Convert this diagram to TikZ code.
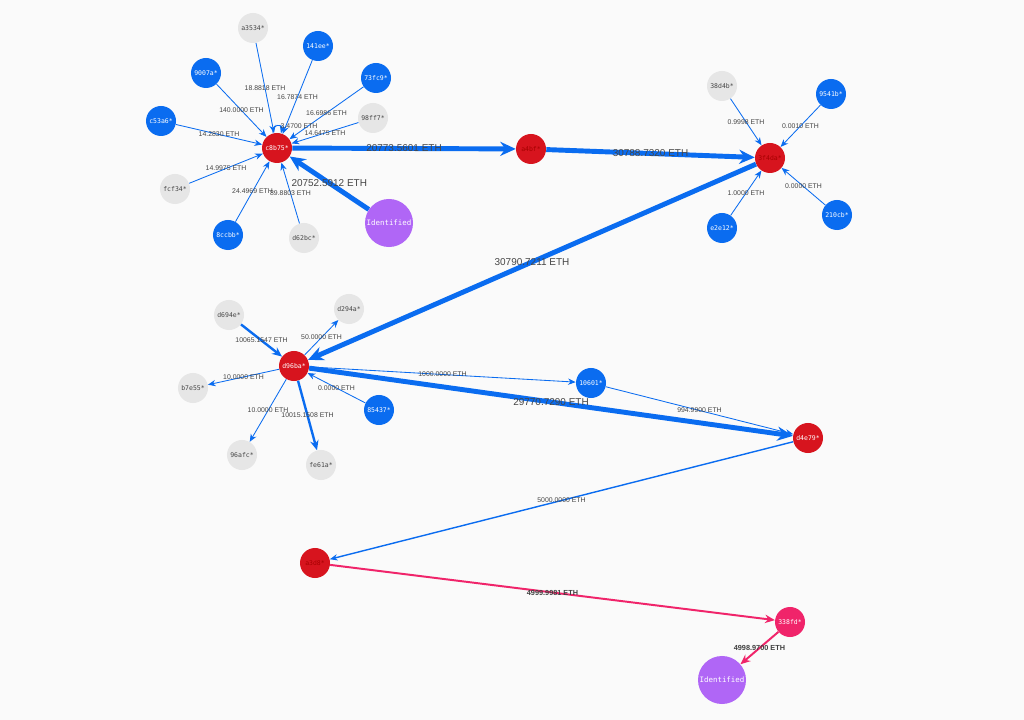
\documentclass[tikz,border=0pt]{standalone}
\usepackage{fontspec}
\setmainfont{Liberation Sans}
\newfontfamily\addrfont{DejaVu Sans Mono}
\usetikzlibrary{arrows.meta}
\definecolor{ethblue}{HTML}{0A6CF0}
\definecolor{ethred}{HTML}{D7141E}
\definecolor{ethgrey}{HTML}{E6E6E6}
\definecolor{ethpurple}{HTML}{B066F6}
\definecolor{ethpink}{HTML}{F0246A}
\definecolor{ethbg}{HTML}{FAFAFA}
\definecolor{ethtext}{HTML}{454545}
\begin{document}
\begin{tikzpicture}[x=0.025cm, y=-0.025cm, ->, >={Stealth[length=5.5pt,width=4.5pt]},
	addr/.style={circle, minimum size=0.75cm, inner sep=0pt, font=\addrfont\fontsize{4.6}{5}\selectfont},
	known/.style={addr, fill=ethblue, text=white},
	plain/.style={addr, fill=ethgrey, text=ethtext},
	hub/.style={addr, fill=ethred, text=white},
	hidden/.style={addr, fill=ethred, text=red!65!black},
	tagged/.style={addr, fill=ethpurple, text=white, minimum size=1.2cm, font=\addrfont\fontsize{5.3}{6}\selectfont},
	exit/.style={addr, fill=ethpink, text=white},
	tx/.style={draw=ethblue, line width=0.6pt},
	mid tx/.style={draw=ethblue, line width=1.7pt, -{Stealth[length=7pt,width=6pt]}},
	big tx/.style={draw=ethblue, line width=3.5pt, -{Stealth[length=11pt,width=10pt]}},
	pink tx/.style={draw=ethpink, line width=1.4pt, -{Stealth[length=7pt,width=6pt]}},
	amt/.style={midway, font=\fontsize{4.9}{5}\selectfont, text=ethtext},
	big amt/.style={midway, font=\fontsize{7.1}{8}\selectfont, text=ethtext},
	dark amt/.style={midway, font=\bfseries\fontsize{5.2}{6}\selectfont, text=black!75}]
	\fill[ethbg, -] (0,0) rectangle (1024,720);
	\useasboundingbox (0,0) rectangle (1024,720);
	\node (wc8b75) [hub] at (277,148) {c8b75*};
	\node (wa3534) [plain] at ([shift={(-24,-120)}]wc8b75) {a3534*};
	\node (w141ee) [known] at ([shift={(41,-102)}]wc8b75) {141ee*};
	\node (w9007a) [known] at ([shift={(-71,-75)}]wc8b75) {9007a*};
	\node (w73fc9) [known] at ([shift={(99,-70)}]wc8b75) {73fc9*};
	\node (w98ff7) [plain] at ([shift={(96,-30)}]wc8b75) {98ff7*};
	\node (wc53a6) [known] at ([shift={(-116,-27)}]wc8b75) {c53a6*};
	\node (wfcf34) [plain] at ([shift={(-102,41)}]wc8b75) {fcf34*};
	\node (w8ccbb) [known] at ([shift={(-49,87)}]wc8b75) {8ccbb*};
	\node (wd62bc) [plain] at ([shift={(27,90)}]wc8b75) {d62bc*};
	\node (ida) [tagged] at ([shift={(112,75)}]wc8b75) {Identified};
	\node (wa4bf) [hidden] at (531,149) {a4bf*};
	\node (w3f4da) [hidden] at (770,158) {3f4da*};
	\node (w38d4b) [plain] at ([shift={(-48,-72)}]w3f4da) {38d4b*};
	\node (w9541b) [known] at ([shift={(61,-64)}]w3f4da) {9541b*};
	\node (we2e12) [known] at ([shift={(-48,70)}]w3f4da) {e2e12*};
	\node (w210cb) [known] at ([shift={(67,57)}]w3f4da) {210cb*};
	\node (wd96ba) [hub] at (294,366) {d96ba*};
	\node (wd694e) [plain] at ([shift={(-65,-51)}]wd96ba) {d694e*};
	\node (wd294a) [plain] at ([shift={(55,-57)}]wd96ba) {d294a*};
	\node (wb7e55) [plain] at ([shift={(-101,22)}]wd96ba) {b7e55*};
	\node (w96afc) [plain] at ([shift={(-52,89)}]wd96ba) {96afc*};
	\node (wfe61a) [plain] at ([shift={(27,99)}]wd96ba) {fe61a*};
	\node (w85437) [known] at ([shift={(85,44)}]wd96ba) {85437*};
	\node (w10601) [known] at (591,383) {10601*};
	\node (wd4e79) [hub] at (808,438) {d4e79*};
	\node (wa3d8) [hidden] at (315,563) {a3d8*};
	\node (w338fd) [exit] at (790,622) {338fd*};
	\node (idb) [tagged] at ([shift={(-68,58)}]w338fd) {Identified};
	\draw[tx] (wa3534) -- node[amt] {18.8818 ETH} (wc8b75);
	\draw[tx] (w141ee) -- node[amt] {16.7874 ETH} (wc8b75);
	\draw[tx] (w9007a) -- node[amt] {140.0000 ETH} (wc8b75);
	\draw[tx] (w73fc9) -- node[amt] {16.6986 ETH} (wc8b75);
	\draw[tx] (w98ff7) -- node[amt] {14.6475 ETH} (wc8b75);
	\draw[tx] (wc53a6) -- node[amt] {14.2830 ETH} (wc8b75);
	\draw[tx] (wfcf34) -- node[amt] {14.9975 ETH} (wc8b75);
	\draw[tx] (w8ccbb) -- node[amt] {24.4969 ETH} (wc8b75);
	\draw[tx] (wd62bc) -- node[amt] {89.8803 ETH} (wc8b75);
	\draw[tx] (wc8b75) to[loop above, min distance=2.5mm] node[amt, right=-1pt] {3.4700 ETH} (wc8b75);
	\draw[big tx] (ida) -- node[big amt] {20752.5912 ETH} (wc8b75);
	\draw[big tx] (wc8b75) -- node[big amt] {20773.5601 ETH} (wa4bf);
	\draw[big tx] (wa4bf) -- node[big amt] {30788.7320 ETH} (w3f4da);
	\draw[tx] (w38d4b) -- node[amt] {0.9998 ETH} (w3f4da);
	\draw[tx] (w9541b) -- node[amt] {0.0010 ETH} (w3f4da);
	\draw[tx] (we2e12) -- node[amt] {1.0000 ETH} (w3f4da);
	\draw[tx] (w210cb) -- node[amt] {0.0000 ETH} (w3f4da);
	\draw[big tx] (w3f4da) -- node[big amt] {30790.7211 ETH} (wd96ba);
	\draw[mid tx] (wd694e) -- node[amt] {10065.1547 ETH} (wd96ba);
	\draw[tx] (wd96ba) -- node[amt] {50.0000 ETH} (wd294a);
	\draw[tx] (wd96ba) -- node[amt] {10.0000 ETH} (wb7e55);
	\draw[tx] (wd96ba) -- node[amt] {10.0000 ETH} (w96afc);
	\draw[mid tx] (wd96ba) -- node[amt] {10015.1508 ETH} (wfe61a);
	\draw[tx] (w85437) -- node[amt] {0.0000 ETH} (wd96ba);
	\draw[tx] (wd96ba) -- node[amt] {1000.0000 ETH} (w10601);
	\draw[big tx] (wd96ba) -- node[big amt] {29770.7290 ETH} (wd4e79);
	\draw[tx] (w10601) -- node[amt] {994.9900 ETH} (wd4e79);
	\draw[tx, line width=1pt] (wd4e79) -- node[amt] {5000.0000 ETH} (wa3d8);
	\draw[pink tx] (wa3d8) -- node[dark amt] {4999.9981 ETH} (w338fd);
	\draw[pink tx] (w338fd) -- node[dark amt] {4998.9700 ETH} (idb);
\end{tikzpicture}
\end{document}
